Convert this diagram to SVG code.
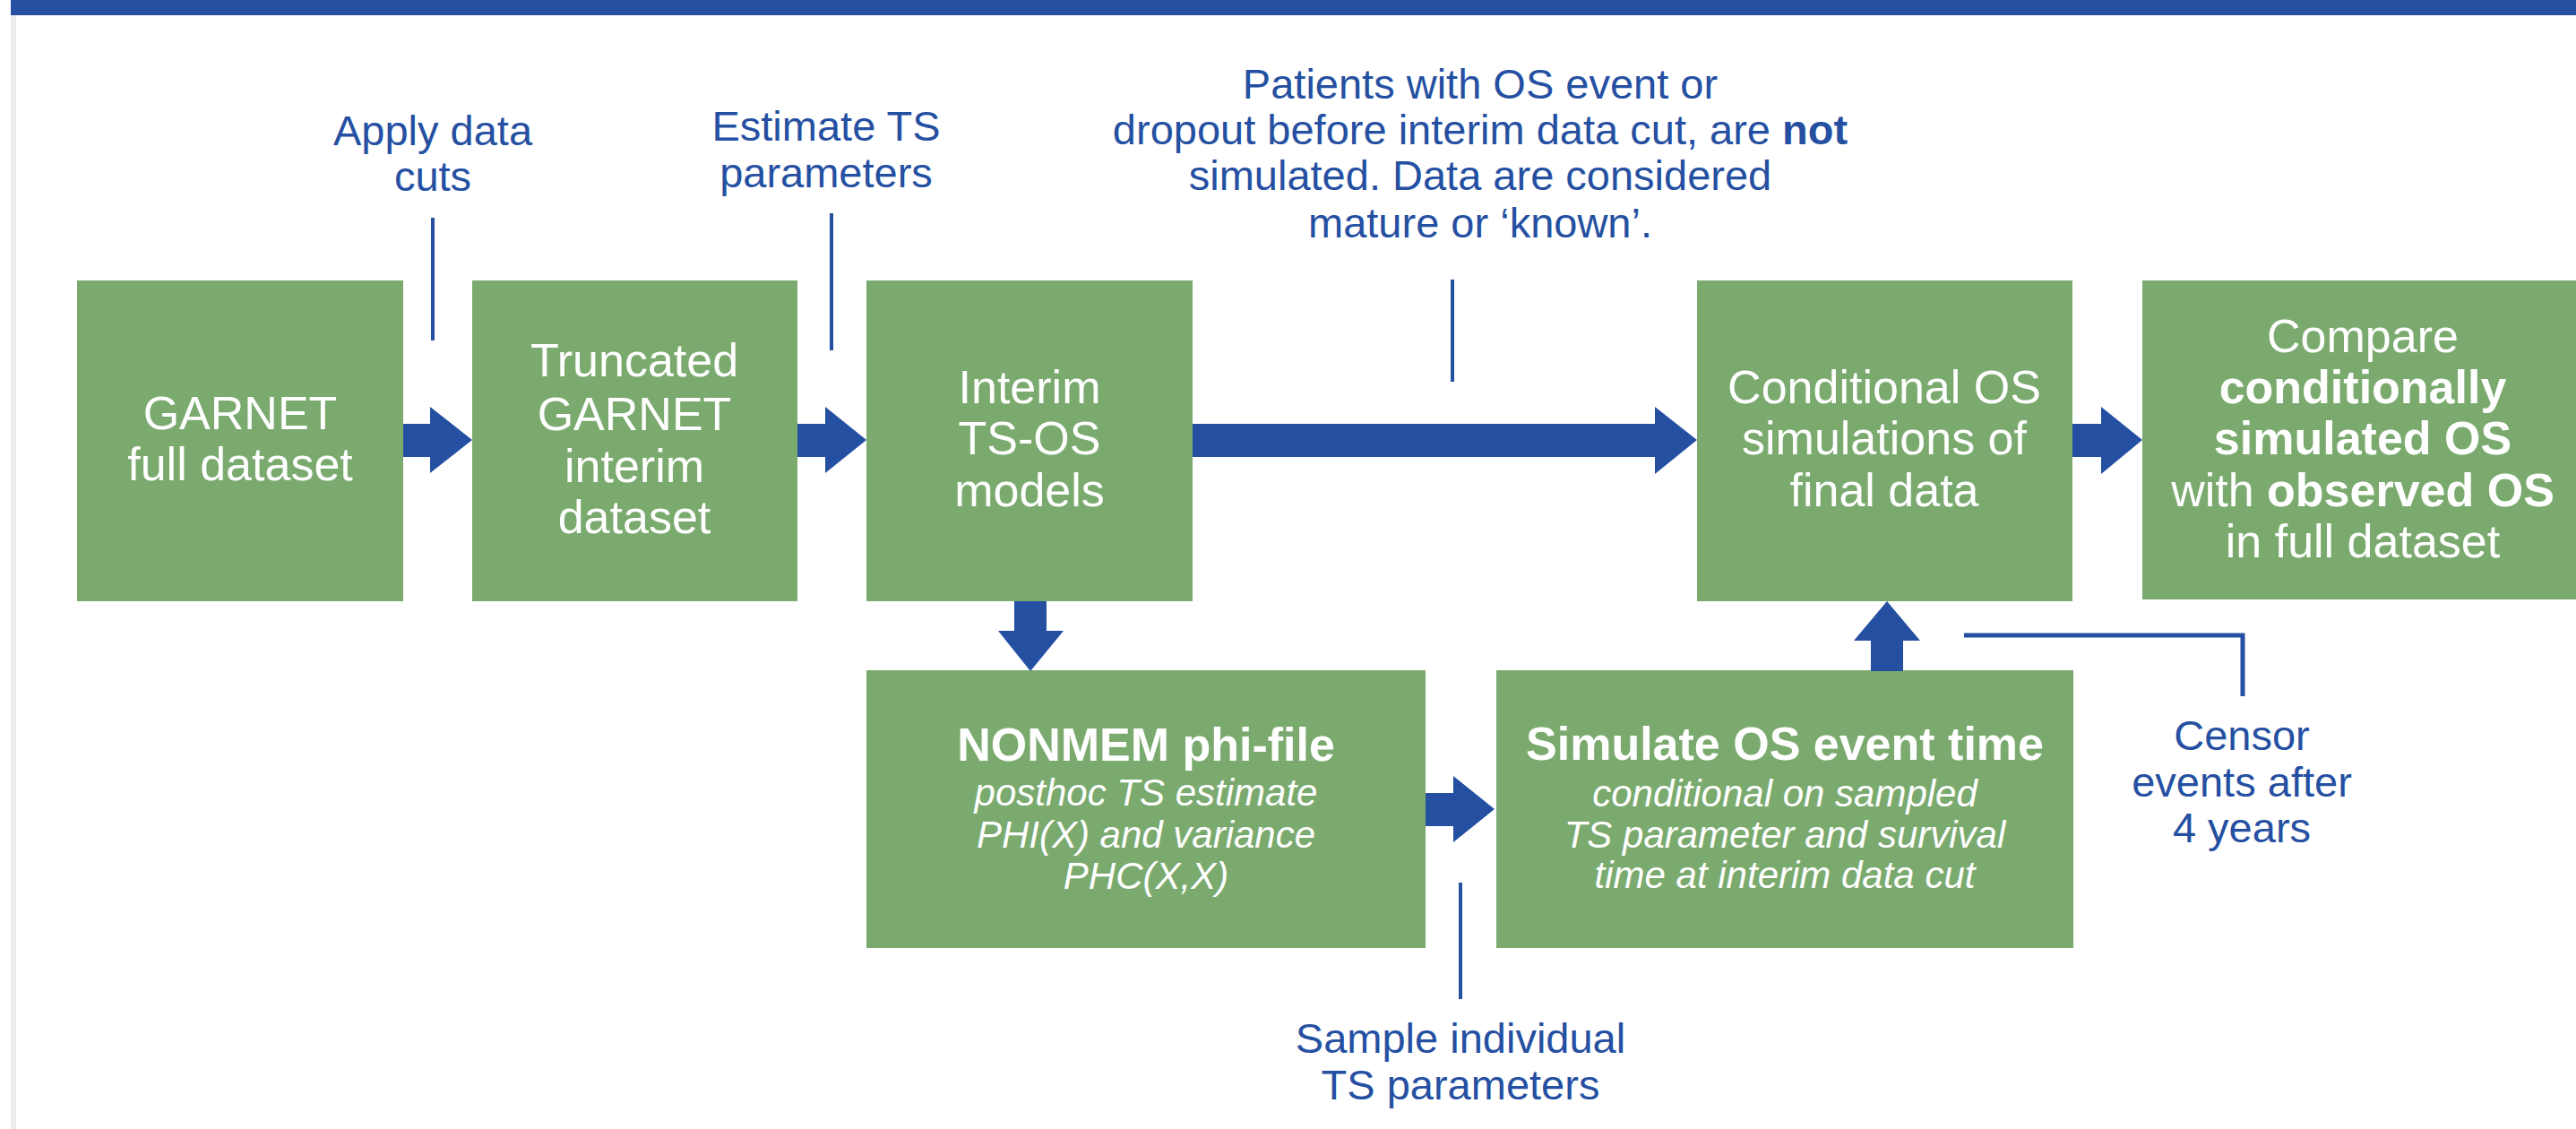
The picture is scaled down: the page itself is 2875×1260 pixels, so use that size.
<svg xmlns="http://www.w3.org/2000/svg" width="2875" height="1260" viewBox="0 0 2875 1260">
  <style>
    .box { fill: #7BAA6F; }
    .bt { font-family: "Liberation Sans", Arial, sans-serif; font-size: 52px; fill: #ffffff; text-anchor: middle; }
    .bt-b { font-weight: bold; }
    .bt-i { font-size: 42px; font-style: italic; }
    .note { font-family: "Liberation Sans", Arial, sans-serif; font-size: 47px; fill: #2550A2; text-anchor: middle; }
    .arrow { fill: #2550A2; }
    .lead { stroke: #2550A2; stroke-width: 4; fill: none; }
    .lead-thick { stroke: #2550A2; stroke-width: 5; fill: none; }
  </style>

  <!-- page frame -->
  <rect x="0" y="0" width="2875" height="1260" fill="#ffffff"/>
  <rect x="12" y="0" width="2863" height="17" fill="#2550A2"/>
  <rect x="12" y="17" width="6" height="1243" fill="#ececec"/>

  <!-- annotations -->
  <g id="note-datacuts">
    <text class="note" x="483" y="162">Apply data</text>
    <text class="note" x="483" y="213">cuts</text>
  </g>
  <g id="note-estimate">
    <text class="note" x="922" y="157">Estimate TS</text>
    <text class="note" x="922" y="209">parameters</text>
  </g>
  <g id="note-patients">
    <text class="note" x="1652" y="110">Patients with OS event or</text>
    <text class="note" x="1652" y="161">dropout before interim data cut, are <tspan font-weight="bold">not</tspan></text>
    <text class="note" x="1652" y="212">simulated. Data are considered</text>
    <text class="note" x="1652" y="265">mature or ‘known’.</text>
  </g>
  <g id="note-sample">
    <text class="note" x="1630" y="1175">Sample individual</text>
    <text class="note" x="1630" y="1227">TS parameters</text>
  </g>
  <g id="note-censor">
    <text class="note" x="2502" y="837">Censor</text>
    <text class="note" x="2502" y="889">events after</text>
    <text class="note" x="2502" y="940">4 years</text>
  </g>

  <!-- nodes -->
  <g id="node-full">
    <rect class="box" x="86" y="313" width="364" height="358"/>
    <text class="bt" x="268" y="479">GARNET</text>
    <text class="bt" x="268" y="536">full dataset</text>
  </g>
  <g id="node-truncated">
    <rect class="box" x="527" y="313" width="363" height="358"/>
    <text class="bt" x="708" y="420">Truncated</text>
    <text class="bt" x="708" y="480">GARNET</text>
    <text class="bt" x="708" y="538">interim</text>
    <text class="bt" x="708" y="595">dataset</text>
  </g>
  <g id="node-interim">
    <rect class="box" x="967" y="313" width="364" height="358"/>
    <text class="bt" x="1149" y="450">Interim</text>
    <text class="bt" x="1149" y="507">TS-OS</text>
    <text class="bt" x="1149" y="565">models</text>
  </g>
  <g id="node-conditional">
    <rect class="box" x="1894" y="313" width="419" height="358"/>
    <text class="bt" x="2103" y="450">Conditional OS</text>
    <text class="bt" x="2103" y="507">simulations of</text>
    <text class="bt" x="2103" y="565">final data</text>
  </g>
  <g id="node-compare">
    <rect class="box" x="2391" y="313" width="492" height="356"/>
    <text class="bt" x="2637" y="393">Compare</text>
    <text class="bt bt-b" x="2637" y="450">conditionally</text>
    <text class="bt bt-b" x="2637" y="507">simulated OS</text>
    <text class="bt" x="2637" y="565">with <tspan font-weight="bold">observed OS</tspan></text>
    <text class="bt" x="2637" y="622">in full dataset</text>
  </g>
  <g id="node-phi">
    <rect class="box" x="967" y="748" width="624" height="310"/>
    <text class="bt bt-b" x="1279" y="849">NONMEM phi-file</text>
    <text class="bt bt-i" x="1279" y="899">posthoc TS estimate</text>
    <text class="bt bt-i" x="1279" y="946">PHI(X) and variance</text>
    <text class="bt bt-i" x="1279" y="992">PHC(X,X)</text>
  </g>
  <g id="node-simulate">
    <rect class="box" x="1670" y="748" width="644" height="310"/>
    <text class="bt bt-b" x="1992" y="848">Simulate OS event time</text>
    <text class="bt bt-i" x="1992" y="900">conditional on sampled</text>
    <text class="bt bt-i" x="1992" y="946">TS parameter and survival</text>
    <text class="bt bt-i" x="1992" y="991">time at interim data cut</text>
  </g>

  <!-- connectors -->
  <g id="connectors">
    <polygon class="arrow" points="450,473 480,473 480,454 527,491 480,528 480,510 450,510"/>
    <polygon class="arrow" points="890,473 921,473 921,454 967,491 921,528 921,510 890,510"/>
    <polygon class="arrow" points="1331,473 1847,473 1847,454 1894,491 1847,529 1847,510 1331,510"/>
    <polygon class="arrow" points="2313,473 2345,473 2345,454 2391,491 2345,529 2345,510 2313,510"/>
    <polygon class="arrow" points="1132,671 1168,671 1168,704 1187,704 1150,749 1114,704 1132,704"/>
    <polygon class="arrow" points="1591,885 1622,885 1622,866 1668,903 1622,940 1622,922 1591,922"/>
    <polygon class="arrow" points="2088,749 2124,749 2124,715 2143,715 2106,671 2069,715 2088,715"/>

    <line class="lead" x1="483" y1="243" x2="483" y2="380"/>
    <line class="lead" x1="928" y1="238" x2="928" y2="391"/>
    <line class="lead" x1="1621" y1="312" x2="1621" y2="426"/>
    <line class="lead" x1="1630" y1="985" x2="1630" y2="1115"/>
    <polyline class="lead-thick" points="2192,709 2503,709 2503,777"/>
  </g>
</svg>
